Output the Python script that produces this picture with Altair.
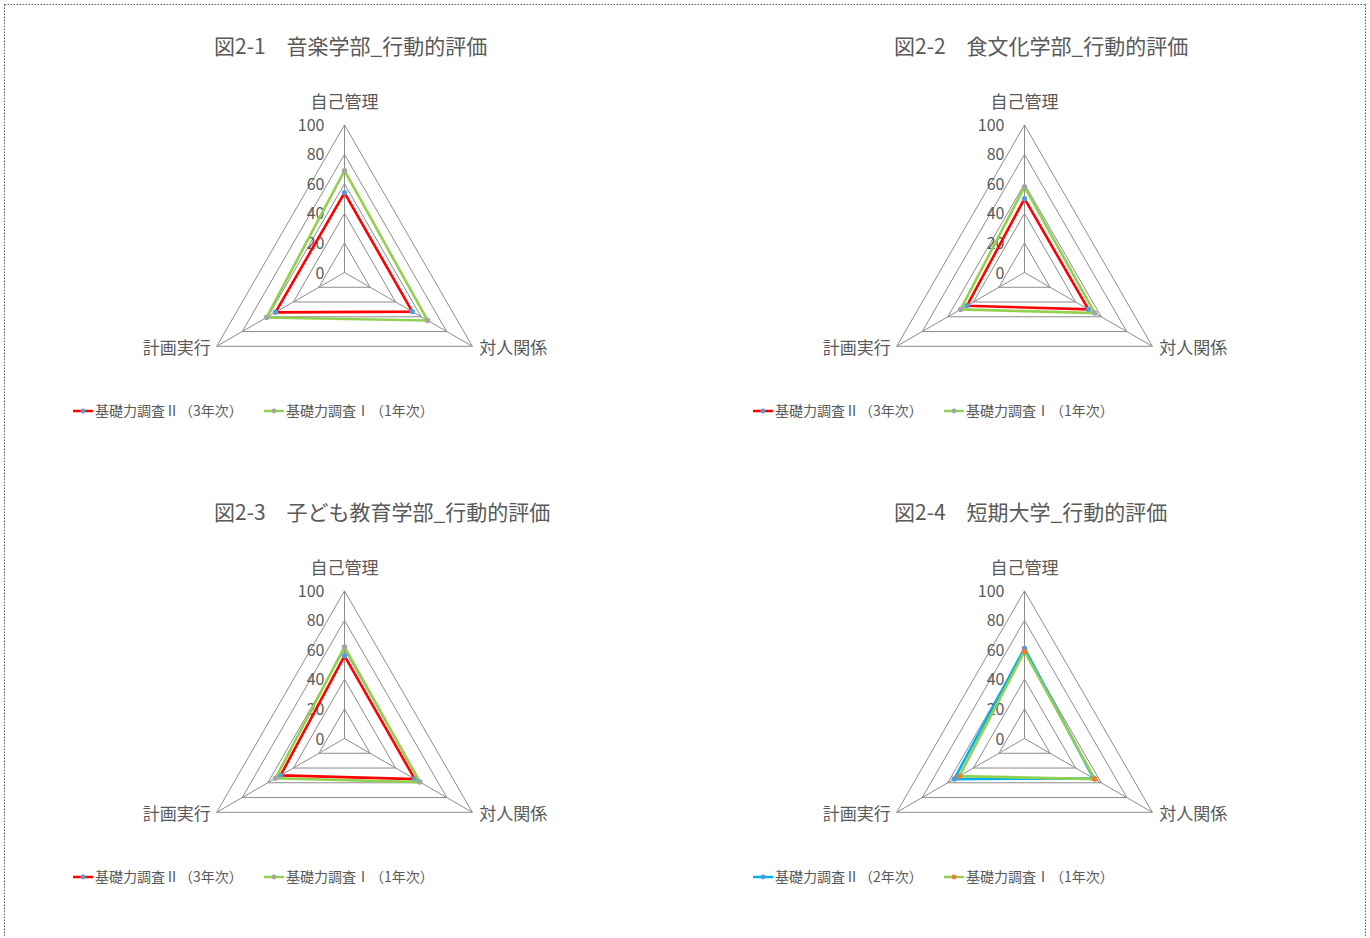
import altair as alt
import pandas as pd

# ---------------- data ----------------
AXES = ["自己管理", "対人関係", "計画実行"]
TICKS = [0, 20, 40, 60, 80, 100]
RINGS = [20, 40, 60, 80, 100]

TITLES = [
    "図2-1　音楽学部_行動的評価",
    "図2-2　食文化学部_行動的評価",
    "図2-3　子ども教育学部_行動的評価",
    "図2-4　短期大学_行動的評価",
]

SERIES_NAMES = [
    ["基礎力調査Ⅱ（3年次）", "基礎力調査Ⅰ（1年次）"],
    ["基礎力調査Ⅱ（3年次）", "基礎力調査Ⅰ（1年次）"],
    ["基礎力調査Ⅱ（3年次）", "基礎力調査Ⅰ（1年次）"],
    ["基礎力調査Ⅱ（2年次）", "基礎力調査Ⅰ（1年次）"],
]

# values in AXES order: 自己管理, 対人関係, 計画実行
VALUES_A = [
    [54, 53, 54],
    [50, 50, 45],
    [56, 55, 50],
    [61, 54, 55],
]
VALUES_B = [
    [69, 65, 61],
    [58, 55, 50],
    [62, 59, 54],
    [59, 55, 51],
]

# ---------------- styles ----------------
LINE_COLORS = [
    ["#FF0000", "#92D050"],
    ["#FF0000", "#92D050"],
    ["#FF0000", "#92D050"],
    ["#00B0F0", "#92D050"],
]
MARKER_COLORS = [
    ["#5B9BD5", "#A5A5A5"],
    ["#5B9BD5", "#A5A5A5"],
    ["#5B9BD5", "#A5A5A5"],
    ["#5B9BD5", "#ED7D31"],
]
FONT = "Noto Sans CJK JP"
TEXT = "#595959"
GRID = "#8C8C8C"

W, H = 680, 466
CX, CY = 344.5, 272.5
K = 147.6 / 100.0
XDOM = [-CX / K, (W - CX) / K]
YDOM = [-(H - CY) / K, CY / K]
xs = alt.Scale(domain=XDOM, nice=False, zero=False)
ys = alt.Scale(domain=YDOM, nice=False, zero=False)

XY = dict(x="datum.value * sin(datum.idx * 2 * PI / 3)",
          y="datum.value * cos(datum.idx * 2 * PI / 3)")


def enc_xy():
    return dict(x=alt.X("x:Q", scale=xs, axis=None),
                y=alt.Y("y:Q", scale=ys, axis=None))


def panel(p, border=False):
    names = SERIES_NAMES[p]
    rows = []
    for s, vals in enumerate([VALUES_A[p], VALUES_B[p]]):
        for i, a in enumerate(AXES):
            rows.append({"series": names[s], "s": s, "axis": a, "idx": i, "value": vals[i]})
    sdf = pd.DataFrame(rows)

    grid_df = pd.DataFrame([{"ring": r, "axis": a, "idx": i, "value": r}
                            for r in RINGS for i, a in enumerate(AXES)])
    spoke_df = pd.DataFrame({"axis": AXES, "idx": list(range(len(AXES))),
                             "value": [max(RINGS)] * len(AXES)})
    tick_df = pd.DataFrame({"value": TICKS, "idx": [0] * len(TICKS)})

    rings = alt.Chart(grid_df).mark_line(
        interpolate="linear-closed", color=GRID, strokeWidth=1
    ).encode(**enc_xy(), detail="ring:N", order="idx:Q").transform_calculate(**XY)

    spokes = alt.Chart(spoke_df).mark_rule(color=GRID, strokeWidth=1).encode(
        **enc_xy(), x2="x0:Q", y2="y0:Q"
    ).transform_calculate(**XY, x0="0", y0="0")

    ticks = alt.Chart(tick_df).mark_text(
        align="right", baseline="middle", dx=-20, dy=1, font=FONT, fontSize=16, color=TEXT
    ).encode(**enc_xy(), text="value:Q").transform_calculate(**XY)

    lab_base = alt.Chart(spoke_df).transform_calculate(**XY)
    lab_top = lab_base.transform_filter(alt.datum.idx == 0).mark_text(
        align="center", baseline="middle", dy=-22, font=FONT, fontSize=17, color=TEXT
    ).encode(**enc_xy(), text="axis:N")
    lab_right = lab_base.transform_filter(alt.datum.idx == 1).mark_text(
        align="left", baseline="middle", dx=7, dy=3, font=FONT, fontSize=17, color=TEXT
    ).encode(**enc_xy(), text="axis:N")
    lab_left = lab_base.transform_filter(alt.datum.idx == 2).mark_text(
        align="right", baseline="middle", dx=-6, dy=3, font=FONT, fontSize=17, color=TEXT
    ).encode(**enc_xy(), text="axis:N")

    layers = [rings, spokes, ticks, lab_top, lab_right, lab_left]

    for s in range(2):
        sub = sdf[sdf["s"] == s]
        line = alt.Chart(sub).mark_line(
            interpolate="linear-closed", strokeWidth=2.6, color=LINE_COLORS[p][s]
        ).encode(**enc_xy(), order="idx:Q").transform_calculate(**XY)
        pts = alt.Chart(sub).mark_point(
            filled=True, size=30, opacity=1, color=MARKER_COLORS[p][s]
        ).encode(**enc_xy()).transform_calculate(**XY)
        layers += [line, pts]

    one = pd.DataFrame({"t": [TITLES[p]]})
    title = alt.Chart(one).mark_text(
        align="left", baseline="middle", font=FONT, fontSize=21, color=TEXT
    ).encode(x=alt.value(214), y=alt.value(48), text="t:N")
    layers.append(title)

    for s in range(2):
        lx = 73 + 191 * s
        ldf = pd.DataFrame({"name": [names[s]]})
        seg = alt.Chart(ldf).mark_rule(color=LINE_COLORS[p][s], strokeWidth=2.5).encode(
            x=alt.value(lx), x2=alt.value(lx + 20), y=alt.value(411))
        dot = alt.Chart(ldf).mark_point(filled=True, size=24, opacity=1,
                                        color=MARKER_COLORS[p][s]).encode(
            x=alt.value(lx + 10), y=alt.value(411))
        txt = alt.Chart(ldf).mark_text(align="left", baseline="middle", font=FONT,
                                       fontSize=14, color=TEXT).encode(
            x=alt.value(lx + 22), y=alt.value(412), text="name:N")
        layers += [seg, dot, txt]

    if border:
        bdf = pd.DataFrame({"k": [0]})
        bstyle = dict(color="#555555", strokeWidth=1, strokeDash=[1.5, 1.5])
        layers += [
            alt.Chart(bdf).mark_rule(**bstyle).encode(
                x=alt.value(4.5), y=alt.value(4.5), y2=alt.value(936)),
            alt.Chart(bdf).mark_rule(**bstyle).encode(
                x=alt.value(4.5), x2=alt.value(1365.5), y=alt.value(4.5)),
            alt.Chart(bdf).mark_rule(**bstyle).encode(
                x=alt.value(1365.5), y=alt.value(4.5), y2=alt.value(936)),
        ]

    return alt.layer(*layers).properties(width=W, height=H)


chart = alt.concat(
    *[panel(p, border=(p == 0)) for p in range(4)],
    columns=2, spacing=0, bounds="flush"
).properties(padding=0).configure_view(stroke=None)

chart.save("out.html", embed_options={"renderer": "svg", "actions": False})
